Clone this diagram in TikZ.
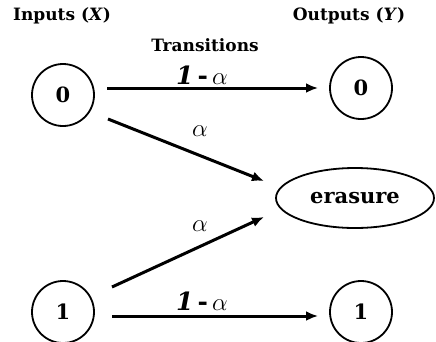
\documentclass[tikz,border=0pt]{standalone}
\usepackage{fontspec}
\setmainfont{DejaVu Serif}
\usetikzlibrary{arrows.meta,shapes.geometric}
\begin{document}
\begin{tikzpicture}[x=1pt,y=-1pt,
  state/.style={draw,line width=1.8pt,circle,minimum size=62pt,inner sep=0pt,font=\bfseries\fontsize{21}{21}\selectfont},
  erase/.style={draw,line width=1.8pt,ellipse,minimum width=158pt,minimum height=60pt,inner sep=0pt,font=\bfseries\fontsize{21}{21}\selectfont},
  trans/.style={line width=3pt,-{Latex[length=12pt,width=10pt]}},
  head/.style={font=\bfseries\fontsize{17}{17}\selectfont},
  lab/.style={font=\fontsize{25}{25}\selectfont}]
\useasboundingbox (0,0) rectangle (436,341);
\node[head] (hin) at (62,16) {Inputs (\textit{X})};
\node[head] (hout) at (349,16) {Outputs (\textit{Y})};
\node[head] (htr) at (205,45) {Transitions};
\node[state] (x0) at (63,95) {0};
\node[state] (y0) at (361,88) {0};
\node[erase] (er) at (355,198) {erasure};
\node[state] (x1) at (63,312) {1};
\node[state] (y1) at (361,312) {1};
\coordinate (a0s) at (107,88);
\coordinate (a0e) at (318,88);
\coordinate (b0s) at (108,119);
\coordinate (b0e) at (264,181);
\coordinate (b1s) at (112,287);
\coordinate (b1e) at (264,217);
\coordinate (a1s) at (112,316);
\coordinate (a1e) at (318,316);
\draw[trans] (a0s) -- (a0e);
\draw[trans] (b0s) -- (b0e);
\draw[trans] (b1s) -- (b1e);
\draw[trans] (a1s) -- (a1e);
\node[lab] (l0) at (202,75) {\textbf{\textit{1}}\,\textbf{-}\,$\alpha$};
\node[lab] (l1) at (200,131) {$\alpha$};
\node[lab] (l2) at (200,226) {$\alpha$};
\node[lab] (l3) at (202,301) {\textbf{\textit{1}}\,\textbf{-}\,$\alpha$};
\end{tikzpicture}
\end{document}
